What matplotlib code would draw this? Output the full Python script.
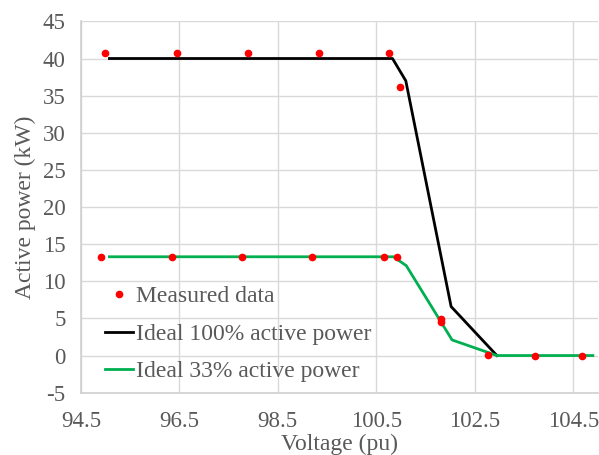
import matplotlib
matplotlib.use("Agg")
import matplotlib.pyplot as plt

plt.rcParams['font.family'] = ['Liberation Serif', 'DejaVu Serif']
plt.rcParams['axes.unicode_minus'] = False

# measured points
meas_v = [95.0, 96.45, 97.9, 99.34, 100.75, 100.99,
          94.9, 96.35, 97.77, 99.2, 100.66, 100.93, 101.82, 101.82, 102.76, 103.73, 104.68]
meas_p = [40.7, 40.7, 40.7, 40.7, 40.7, 36.2,
          13.3, 13.3, 13.3, 13.3, 13.3, 13.3, 4.9, 4.5, 0.1, 0.0, 0.0]

# ideal curves
ideal100_v = [95.08, 100.83, 101.1, 102.02, 102.95]
ideal100_p = [40.0, 40.0, 37.0, 6.6, 0.0]
ideal33_v = [95.08, 100.85, 101.11, 102.04, 102.95, 104.9]
ideal33_p = [13.3, 13.3, 12.1, 2.1, 0.0, 0.0]

grey = '#595959'

fig = plt.figure(figsize=(5.99, 4.55), dpi=100)
ax = fig.add_axes([0.135, 0.137, 0.863, 0.816])

ax.plot(meas_v, meas_p, linestyle='none', marker='o', color='#FF0000',
        markersize=4.5, label='Measured data', zorder=4)
ax.plot(ideal100_v, ideal100_p, color='black', lw=2, label='Ideal 100% active power', zorder=3)
ax.plot(ideal33_v, ideal33_p, color='#00B050', lw=2, label='Ideal 33% active power', zorder=3)

ax.set_xlim(94.5, 105.0)
ax.set_ylim(-5, 45)
ax.set_xticks([94.5, 96.5, 98.5, 100.5, 102.5, 104.5])
ax.set_xticklabels(['94.5', '96.5', '98.5', '100.5', '102.5', '104.5'])
ax.set_yticks(range(-5, 50, 5))
ax.grid(True, color='#D9D9D9', lw=1)
ax.set_axisbelow(True)

for s in ['top', 'right']:
    ax.spines[s].set_visible(False)
for s in ['left', 'bottom']:
    ax.spines[s].set_color('#D0D0D0')
    ax.spines[s].set_linewidth(1.2)

ax.tick_params(length=0, labelsize=16.5, labelcolor=grey)
ax.tick_params(axis='x', pad=13)
ax.tick_params(axis='y', pad=11)
ax.set_xlabel('Voltage (pu)', fontsize=17, color=grey, labelpad=1.5)
ax.set_ylabel('Active power (kW)', fontsize=17, color=grey, labelpad=5)

leg = ax.legend(loc='upper left', bbox_to_anchor=(0.023, 0.32), frameon=False,
                fontsize=17, handlelength=1.19, handletextpad=0.13, labelspacing=0.68,
                borderpad=0)
for t in leg.get_texts():
    t.set_color(grey)

fig.savefig('out.png', dpi=100)
